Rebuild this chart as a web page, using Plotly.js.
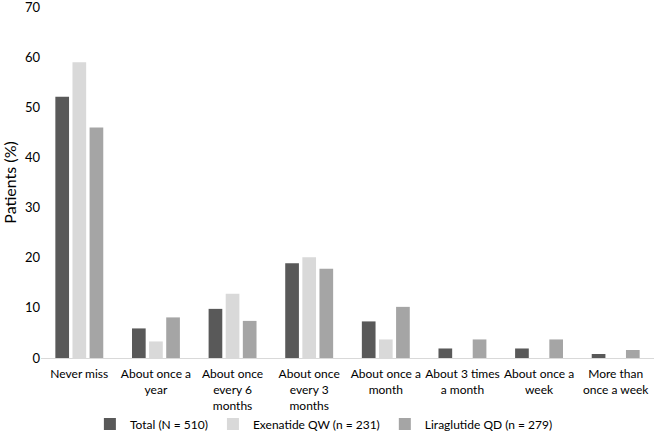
<!DOCTYPE html>
<html>
<head>
<meta charset="utf-8">
<script src="https://cdn.plot.ly/plotly-3.0.1.min.js"></script>
<style>html,body{margin:0;padding:0;background:#fff;}#chart{width:661px;height:437px;}</style>
</head>
<body>
<div id="chart"></div>
<script>
const categories = ["Never miss", "About once a<br>year", "About once<br>every 6<br>months", "About once<br>every 3<br>months", "About once a<br>month", "About 3 times<br>a month", "About once a<br>week", "More than<br>once a week"];
const totalValues = [52.1, 5.9, 9.8, 18.9, 7.3, 1.9, 1.9, 0.8];
const exenatideValues = [59.0, 3.3, 12.8, 20.1, 3.7, 0, 0, 0];
const liraglutideValues = [46.0, 8.1, 7.4, 17.8, 10.2, 3.7, 3.7, 1.6];
const seriesNames = ["Total (N = 510)", "Exenatide QW (n = 231)", "Liraglutide QD (n = 279)"];
const yTicks = [0, 10, 20, 30, 40, 50, 60, 70];

const colors = ["#595959", "#d9d9d9", "#a5a5a5"];
const seriesValues = [totalValues, exenatideValues, liraglutideValues];
const font = "Lato, 'Open Sans', sans-serif";

const data = seriesValues.map((vals, i) => ({
  type: "bar",
  name: seriesNames[i],
  x: categories,
  y: vals,
  marker: {color: colors[i], line: {width: 0}},
  hoverinfo: "skip"
}));

const layout = {
  width: 661, height: 437,
  margin: {l: 41, r: 7, t: 7, b: 79},
  paper_bgcolor: "#ffffff",
  plot_bgcolor: "#ffffff",
  barmode: "group",
  bargap: 0.33,
  bargroupgap: 0.2,
  font: {family: font, color: "#000000", size: 12},
  showlegend: true,
  legend: {
    orientation: "h",
    xref: "container", yref: "container",
    x: 0.49, xanchor: "center",
    y: 0.03, yanchor: "middle",
    bgcolor: "rgba(0,0,0,0)",
    font: {family: font, size: 12, color: "#000"},
    itemwidth: 30,
    traceorder: "normal"
  },
  xaxis: {
    type: "category",
    automargin: false,
    showline: true, linecolor: "#d9d9d9", linewidth: 1,
    showgrid: false, zeroline: false,
    ticks: "",
    tickangle: 0,
    ticklabelstandoff: 5,
    tickfont: {family: font, size: 12, color: "#000"}
  },
  yaxis: {
    automargin: false,
    range: [0, 70.02],
    tickvals: yTicks,
    ticktext: yTicks.map(String),
    showgrid: false, zeroline: false, showline: false,
    ticks: "",
    ticklabeloverflow: "allow",
    tickfont: {family: font, size: 13, color: "#000"},
    title: {text: "Patients (%)", font: {family: font, size: 16, color: "#000"}, standoff: 6}
  }
};

Plotly.newPlot("chart", data, layout, {displayModeBar: false, staticPlot: true});
</script>
</body>
</html>
